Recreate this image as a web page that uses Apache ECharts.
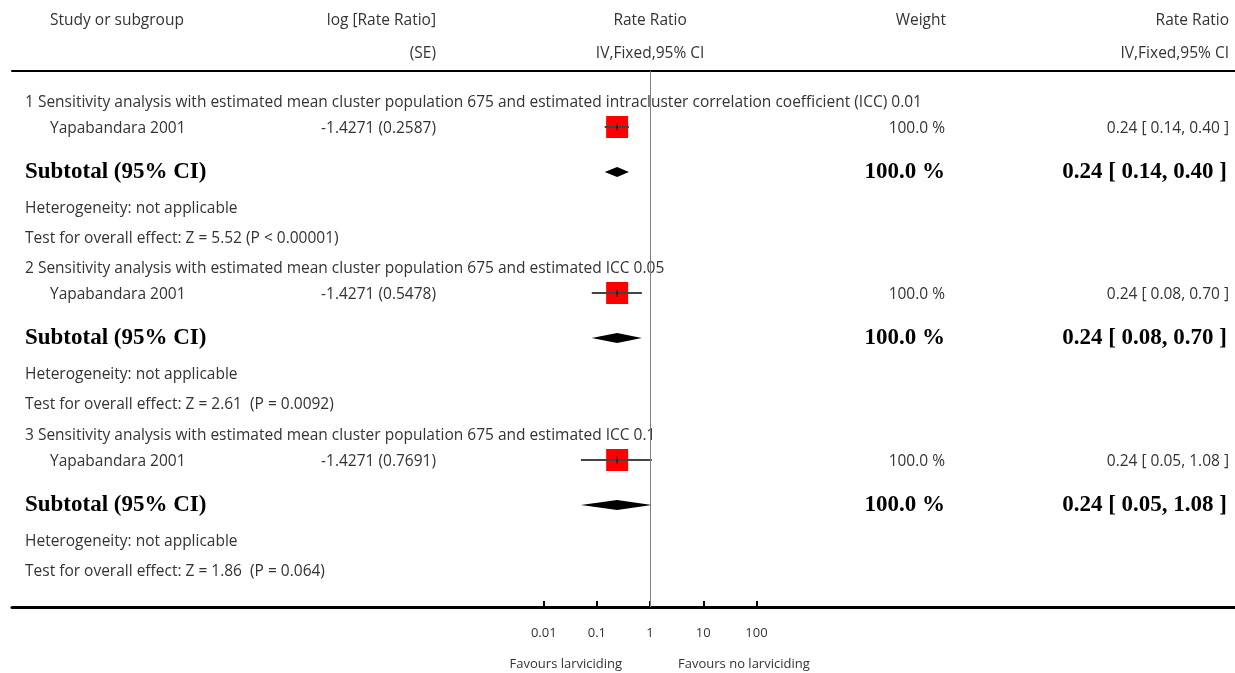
<!DOCTYPE html>
<html>
<head>
<meta charset="utf-8">
<script src="https://cdn.jsdelivr.net/npm/echarts@6/dist/echarts.min.js"></script>
<style>
  html, body { margin: 0; padding: 0; background: #fff; }
  #chart { width: 1235px; height: 673px; }
</style>
</head>
<body>
<div id="chart"></div>
<script>
// forest plot data
const subgroups = [
  '1 Sensitivity analysis with estimated mean cluster population 675 and estimated intracluster correlation coefficient (ICC) 0.01',
  '2 Sensitivity analysis with estimated mean cluster population 675 and estimated ICC 0.05',
  '3 Sensitivity analysis with estimated mean cluster population 675 and estimated ICC 0.1',
];
const studies = ['Yapabandara 2001', 'Yapabandara 2001', 'Yapabandara 2001'];
const logSE = ['-1.4271 (0.2587)', '-1.4271 (0.5478)', '-1.4271 (0.7691)'];
const ratio = [0.24, 0.24, 0.24];
const ciLow = [0.14, 0.08, 0.05];
const ciHigh = [0.40, 0.70, 1.08];
const weights = [100.0, 100.0, 100.0];
const heterogeneity = ['Heterogeneity: not applicable', 'Heterogeneity: not applicable', 'Heterogeneity: not applicable'];
const overallTests = [
  'Test for overall effect: Z = 5.52 (P < 0.00001)',
  'Test for overall effect: Z = 2.61  (P = 0.0092)',
  'Test for overall effect: Z = 1.86  (P = 0.064)',
];
const tickValues = [0.01, 0.1, 1, 10, 100];
const tickLabels = ['0.01', '0.1', '1', '10', '100'];

// layout (pixels below the header rule)
const blockOffsets = [30, 196, 363];
const rowSteps = { group: 0, study: 26, subtotal: 71, hetero: 106, test: 136 };

const SANS = '"Open Sans", Lato, sans-serif';
const SERIF = '"Liberation Serif", "DejaVu Serif", serif';
const TEXT = '#333';

const rows = [];
subgroups.forEach((_, g) => {
  ['group', 'study', 'subtotal', 'hetero', 'test'].forEach(kind => {
    rows.push({ kind, g, y: blockOffsets[g] + rowSteps[kind] });
  });
});

const fmtCI = g => `${ratio[g].toFixed(2)} [ ${ciLow[g].toFixed(2)}, ${ciHigh[g].toFixed(2)} ]`;
const fmtW = g => `${weights[g].toFixed(1)} %`;

const txt = (x, y, s, align, bold) => ({
  type: 'text',
  style: {
    x, y: bold ? y : y + 2, text: s, align, verticalAlign: 'middle', fill: bold ? '#000' : TEXT,
    fontFamily: bold ? SERIF : SANS,
    fontWeight: bold ? 'bold' : 'normal',
    fontSize: bold ? 23 : 15.5,
  },
});

function renderRow(params, api) {
  const row = rows[params.dataIndex];
  const g = row.g;
  const y = api.coord([1, row.y])[1];
  const xv = v => api.coord([v, row.y])[0];
  const els = [];
  if (row.kind === 'group') {
    els.push(txt(25, y, subgroups[g], 'left'));
  } else if (row.kind === 'study') {
    els.push(txt(50, y, studies[g], 'left'));
    els.push(txt(436, y, logSE[g], 'right'));
    els.push(txt(945, y, fmtW(g), 'right'));
    els.push(txt(1229, y, fmtCI(g), 'right'));
    const c = xv(ratio[g]);
    els.push({ type: 'rect', shape: { x: c - 11, y: y - 11, width: 22, height: 22 }, style: { fill: '#ff0000' } });
    els.push({ type: 'line', shape: { x1: xv(ciLow[g]), y1: y, x2: xv(ciHigh[g]), y2: y }, style: { stroke: '#444', lineWidth: 2 } });
    els.push({ type: 'line', shape: { x1: c, y1: y - 4, x2: c, y2: y + 4 }, style: { stroke: '#000', lineWidth: 1 } });
  } else if (row.kind === 'subtotal') {
    els.push(txt(25, y, 'Subtotal (95% CI)', 'left', true));
    els.push(txt(945, y, fmtW(g), 'right', true));
    els.push(txt(1227, y, fmtCI(g), 'right', true));
    const c = xv(ratio[g]);
    els.push({
      type: 'polygon',
      shape: { points: [[xv(ciLow[g]), y], [c, y - 5], [xv(ciHigh[g]), y], [c, y + 5]] },
      style: { fill: '#000' },
    });
  } else if (row.kind === 'hetero') {
    els.push(txt(25, y, heterogeneity[g], 'left'));
  } else {
    els.push(txt(25, y, overallTests[g], 'left'));
  }
  return { type: 'group', children: els };
}

const chart = echarts.init(document.getElementById('chart'));
chart.setOption({
  animation: false,
  grid: { left: 12, right: 0, top: 71, bottom: 66 },
  xAxis: [
    {
      type: 'log',
      logBase: 10,
      min: 1e-12,
      max: 1e11,
      position: 'bottom',
      axisLine: { onZero: false, lineStyle: { color: '#000', width: 3 } },
      axisTick: { show: true, inside: true, length: 6, lineStyle: { color: '#000', width: 2 }, customValues: tickValues },
      axisLabel: {
        customValues: tickValues,
        formatter: v => tickLabels[tickValues.findIndex(t => Math.abs(t - v) < t * 1e-6)] ?? '',
        margin: 20,
        color: TEXT,
        fontFamily: SANS,
        fontSize: 13,
      },
      splitLine: { show: false },
      minorTick: { show: false },
    },
    {
      type: 'log',
      logBase: 10,
      min: 1e-12,
      max: 1e11,
      position: 'top',
      axisLine: { onZero: false, lineStyle: { color: '#000', width: 2 } },
      axisTick: { show: false },
      axisLabel: { show: false },
      splitLine: { show: false },
    },
  ],
  yAxis: { type: 'value', min: 0, max: 536, inverse: true, show: false },
  series: [
    {
      type: 'custom',
      renderItem: renderRow,
      clip: false,
      silent: true,
      data: rows.map(r => [1, r.y]),
      z: 2,
    },
    {
      type: 'line',
      data: [],
      silent: true,
      z: 3,
      markLine: {
        silent: true,
        symbol: 'none',
        label: { show: false },
        lineStyle: { color: '#808080', width: 1, type: 'solid' },
        data: [{ xAxis: 1 }],
      },
    },
  ],
});

const x1 = chart.convertToPixel({ xAxisIndex: 0 }, 1);
const head = (x, y, s, align) => ({
  type: 'text', x, y,
  style: { text: s, align, verticalAlign: 'middle', fill: TEXT, fontFamily: SANS, fontSize: 15.5 },
});
chart.setOption({
  graphic: [
    head(50, 21, 'Study or subgroup', 'left'),
    head(436, 21, 'log [Rate Ratio]', 'right'),
    head(436, 54, '(SE)', 'right'),
    head(x1, 21, 'Rate Ratio', 'center'),
    head(x1, 54, 'IV,Fixed,95% CI', 'center'),
    head(946, 21, 'Weight', 'right'),
    head(1229, 21, 'Rate Ratio', 'right'),
    head(1229, 54, 'IV,Fixed,95% CI', 'right'),
    { type: 'text', x: x1 - 28, y: 664, style: { text: 'Favours larviciding', align: 'right', verticalAlign: 'middle', fill: TEXT, fontFamily: SANS, fontSize: 13 } },
    { type: 'text', x: x1 + 28, y: 664, style: { text: 'Favours no larviciding', align: 'left', verticalAlign: 'middle', fill: TEXT, fontFamily: SANS, fontSize: 13 } },
  ],
});
</script>
</body>
</html>
